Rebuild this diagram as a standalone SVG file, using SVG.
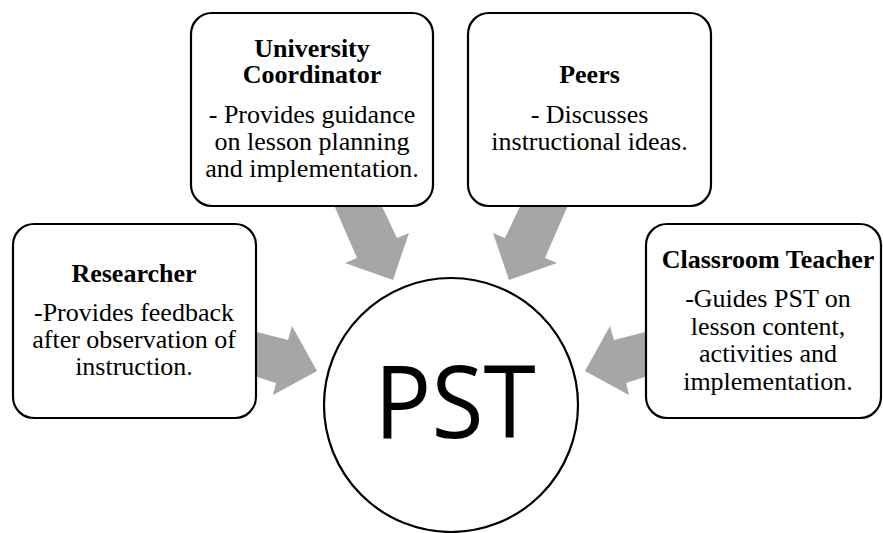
<svg xmlns="http://www.w3.org/2000/svg" width="883" height="533" viewBox="0 0 883 533">
<style>
.box{fill:#fff;stroke:#000;stroke-width:2.2}
.arrow{fill:#a6a6a6;stroke:none}
.h{font-family:"Liberation Serif","Times New Roman",serif;font-weight:bold;font-size:26px;text-anchor:middle;fill:#000}
.t{font-family:"Liberation Serif","Times New Roman",serif;font-size:26px;text-anchor:middle;fill:#000}
.pst{font-family:"Open Sans","Noto Sans",sans-serif;font-size:101px;text-anchor:middle;fill:#000}
</style>
<rect width="883" height="533" fill="#fff"/>
<g id="connectors">
<polygon class="arrow" points="330,196 377,196 397,238 409,233 393,280 345,263 357,258"/>
<polygon class="arrow" points="572,196 525,196 505,238 493,233 509,280 557,263 545,258"/>
<polygon class="arrow" points="245,329 288,340 292,326 317,371 273,395 276,383 245,373"/>
<polygon class="arrow" points="657,329 614,340 610,326 585,371 629,395 626,383 657,373"/>
</g>
<g id="univ">
<rect class="box" x="191" y="13" width="242" height="193" rx="21"/>
<text class="h" x="312" y="57">University<tspan x="312" dy="26">Coordinator</tspan></text>
<text class="t" x="312" y="123">- Provides guidance</text>
<text class="t" x="312" y="150">on lesson planning</text>
<text class="t" x="312" y="177">and implementation.</text>
</g>
<g id="peers">
<rect class="box" x="468" y="13" width="243" height="193" rx="21"/>
<text class="h" x="589.5" y="83">Peers</text>
<text class="t" x="589.5" y="123">- Discusses</text>
<text class="t" x="589.5" y="150">instructional ideas.</text>
</g>
<g id="researcher">
<rect class="box" x="13" y="224" width="243" height="194" rx="21"/>
<text class="h" x="134" y="282">Researcher</text>
<text class="t" x="134" y="321">-Provides feedback</text>
<text class="t" x="134" y="348">after observation of</text>
<text class="t" x="134" y="375">instruction.</text>
</g>
<g id="teacher">
<rect class="box" x="646" y="224" width="235" height="194" rx="21"/>
<text class="h" x="768" y="268">Classroom Teacher</text>
<text class="t" x="768" y="307">-Guides PST on</text>
<text class="t" x="768" y="335">lesson content,</text>
<text class="t" x="768" y="362">activities and</text>
<text class="t" x="768" y="390">implementation.</text>
</g>
<g id="pst">
<circle cx="451" cy="405" r="127" fill="#fff" stroke="#000" stroke-width="2.2"/>
<text class="pst" transform="translate(455,438) scale(0.94,1)">PST</text>
</g>
</svg>
